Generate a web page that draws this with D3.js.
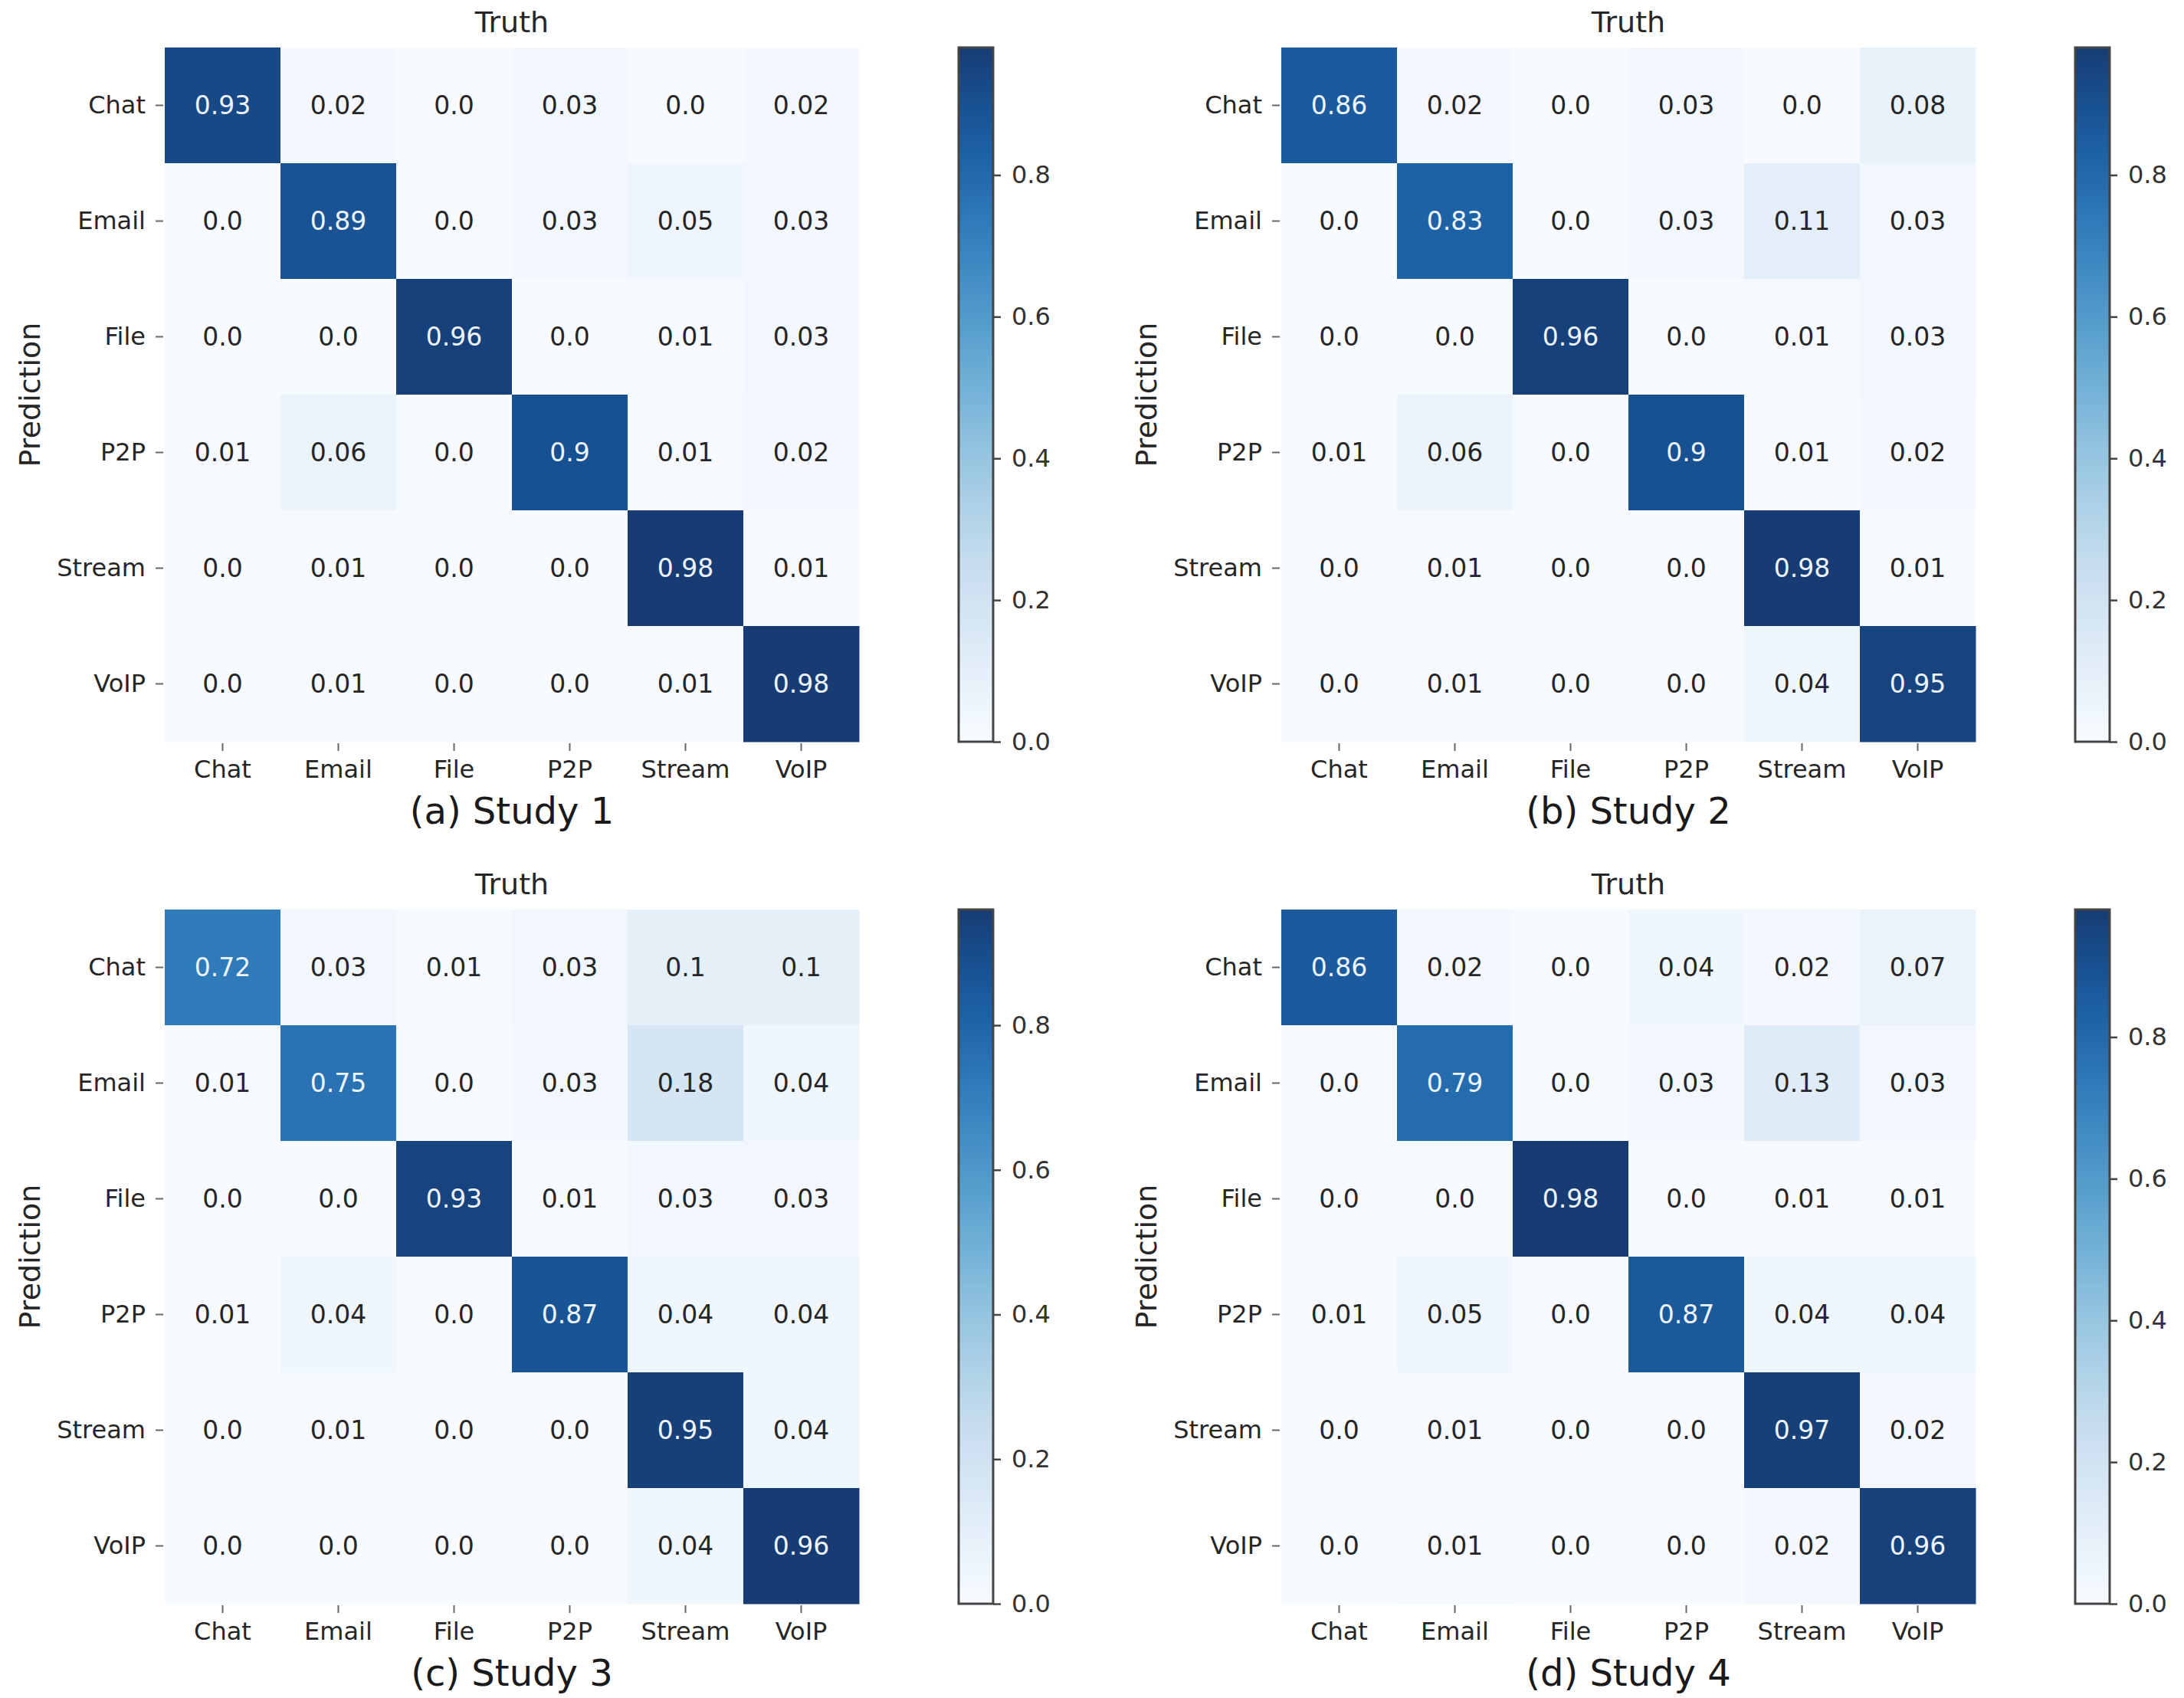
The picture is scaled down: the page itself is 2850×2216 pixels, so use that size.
<!DOCTYPE html>
<html>
<head>
<meta charset="utf-8">
<script src="https://cdn.jsdelivr.net/npm/d3@7"></script>
<style>
  body { margin: 0; background: #fff; }
  text { font-family: "DejaVu Sans", sans-serif; }
</style>
</head>
<body>
<svg id="area" width="2850" height="2216"></svg>
<script>
const CLASSES = ["Chat", "Email", "File", "P2P", "Stream", "VoIP"];

// rows = Prediction, columns = Truth
const STUDY1 = [
  [0.93, 0.02, 0.0, 0.03, 0.0, 0.02],
  [0.0, 0.89, 0.0, 0.03, 0.05, 0.03],
  [0.0, 0.0, 0.96, 0.0, 0.01, 0.03],
  [0.01, 0.06, 0.0, 0.9, 0.01, 0.02],
  [0.0, 0.01, 0.0, 0.0, 0.98, 0.01],
  [0.0, 0.01, 0.0, 0.0, 0.01, 0.98]
];
const STUDY2 = [
  [0.86, 0.02, 0.0, 0.03, 0.0, 0.08],
  [0.0, 0.83, 0.0, 0.03, 0.11, 0.03],
  [0.0, 0.0, 0.96, 0.0, 0.01, 0.03],
  [0.01, 0.06, 0.0, 0.9, 0.01, 0.02],
  [0.0, 0.01, 0.0, 0.0, 0.98, 0.01],
  [0.0, 0.01, 0.0, 0.0, 0.04, 0.95]
];
const STUDY3 = [
  [0.72, 0.03, 0.01, 0.03, 0.1, 0.1],
  [0.01, 0.75, 0.0, 0.03, 0.18, 0.04],
  [0.0, 0.0, 0.93, 0.01, 0.03, 0.03],
  [0.01, 0.04, 0.0, 0.87, 0.04, 0.04],
  [0.0, 0.01, 0.0, 0.0, 0.95, 0.04],
  [0.0, 0.0, 0.0, 0.0, 0.04, 0.96]
];
const STUDY4 = [
  [0.86, 0.02, 0.0, 0.04, 0.02, 0.07],
  [0.0, 0.79, 0.0, 0.03, 0.13, 0.03],
  [0.0, 0.0, 0.98, 0.0, 0.01, 0.01],
  [0.01, 0.05, 0.0, 0.87, 0.04, 0.04],
  [0.0, 0.01, 0.0, 0.0, 0.97, 0.02],
  [0.0, 0.01, 0.0, 0.0, 0.02, 0.96]
];
const CAPTIONS = ["(a) Study 1", "(b) Study 2", "(c) Study 3", "(d) Study 4"];
const CBAR_TICKS = [0, 0.2, 0.4, 0.6, 0.8];

const panels = [
  {m: STUDY1, cap: CAPTIONS[0], dx: 0, dy: 0},
  {m: STUDY2, cap: CAPTIONS[1], dx: 1457, dy: 0},
  {m: STUDY3, cap: CAPTIONS[2], dx: 0, dy: 1125},
  {m: STUDY4, cap: CAPTIONS[3], dx: 1457, dy: 1125}
];

const hm = {x: 215, y: 62, size: 906};
const cb = {x: 1251, y: 62, w: 45, h: 906};

const fmt = v => { let s = v.toFixed(2); if (s.endsWith("0")) s = s.slice(0, -1); return s; };
const blues = t => d3.interpolateRgb(d3.interpolateBlues(t), "#ffffff")(0.06);

const svg = d3.select("#area");

// shared gradient for colorbars
const grad = svg.append("defs").append("linearGradient")
  .attr("id", "cbgrad").attr("x1", 0).attr("y1", 1).attr("x2", 0).attr("y2", 0);
d3.range(0, 1.0001, 0.05).forEach(t => {
  grad.append("stop").attr("offset", t).attr("stop-color", blues(t));
});

panels.forEach(p => {
  const g = svg.append("g").attr("transform", `translate(${p.dx}, ${p.dy})`);
  const vmax = d3.max(p.m.flat());

  const x = d3.scaleBand().domain(CLASSES).range([hm.x, hm.x + hm.size]);
  const y = d3.scaleBand().domain(CLASSES).range([hm.y, hm.y + hm.size]);
  const c = d3.scaleLinear().domain([0, vmax]).range([0, 1]);

  const cells = [];
  p.m.forEach((row, i) => row.forEach((v, j) => cells.push({r: CLASSES[i], col: CLASSES[j], v})));

  g.selectAll("rect.cell").data(cells).enter().append("rect")
    .attr("class", "cell")
    .attr("x", d => x(d.col)).attr("y", d => y(d.r))
    .attr("width", x.bandwidth() + 0.5).attr("height", y.bandwidth() + 0.5)
    .attr("fill", d => blues(c(d.v)));

  g.selectAll("text.val").data(cells).enter().append("text")
    .attr("class", "val")
    .attr("x", d => x(d.col) + x.bandwidth() / 2)
    .attr("y", d => y(d.r) + y.bandwidth() / 2)
    .attr("text-anchor", "middle").attr("dominant-baseline", "central")
    .attr("font-size", 33)
    .attr("fill", d => c(d.v) > 0.55 ? "#eef4fb" : "#262626")
    .text(d => fmt(d.v));

  // x axis (bottom)
  const xa = g.append("g").attr("transform", `translate(0, ${hm.y + hm.size + 2})`)
    .call(d3.axisBottom(x).tickSize(10).tickPadding(12));
  xa.select(".domain").remove();
  xa.selectAll("line").attr("stroke", "#666").attr("stroke-width", 2);
  xa.selectAll("text").attr("font-size", 32).attr("fill", "#262626").attr("font-family", "DejaVu Sans");

  // y axis (left)
  const ya = g.append("g").attr("transform", `translate(${hm.x - 2}, 0)`)
    .call(d3.axisLeft(y).tickSize(10).tickPadding(13));
  ya.select(".domain").remove();
  ya.selectAll("line").attr("stroke", "#666").attr("stroke-width", 2);
  ya.selectAll("text").attr("font-size", 32).attr("fill", "#262626").attr("font-family", "DejaVu Sans");

  // titles
  g.append("text").attr("x", hm.x + hm.size / 2).attr("y", 42)
    .attr("text-anchor", "middle").attr("font-size", 38).attr("fill", "#262626").text("Truth");
  g.append("text").attr("transform", `translate(52, ${hm.y + hm.size / 2}) rotate(-90)`)
    .attr("text-anchor", "middle").attr("font-size", 38).attr("fill", "#262626").text("Prediction");
  g.append("text").attr("x", hm.x + hm.size / 2).attr("y", 1075)
    .attr("text-anchor", "middle").attr("font-size", 48).attr("fill", "#1a1a1a").text(p.cap);

  // colorbar
  const cy = d3.scaleLinear().domain([0, vmax]).range([cb.y + cb.h, cb.y]);
  g.append("rect").attr("x", cb.x).attr("y", cb.y).attr("width", cb.w).attr("height", cb.h)
    .attr("fill", "url(#cbgrad)").attr("stroke", "#444").attr("stroke-width", 3);
  const ca = g.append("g").attr("transform", `translate(${cb.x + cb.w}, 0)`)
    .call(d3.axisRight(cy).tickValues(CBAR_TICKS).tickFormat(d3.format(".1f")).tickSize(10).tickPadding(14));
  ca.select(".domain").remove();
  ca.selectAll("line").attr("stroke", "#444").attr("stroke-width", 2.5);
  ca.selectAll("text").attr("font-size", 32).attr("fill", "#333").attr("font-family", "DejaVu Sans");
});
</script>
</body>
</html>
